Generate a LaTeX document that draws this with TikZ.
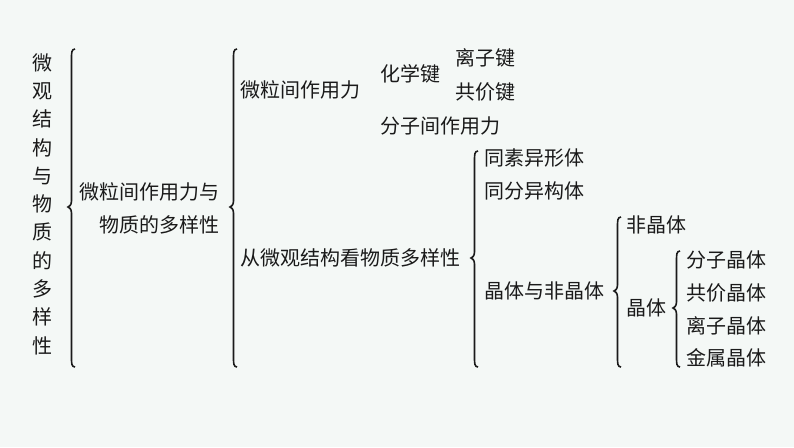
\documentclass[tikz,border=0pt]{standalone}
\usepackage{fontspec}
\newfontfamily\cjk{Noto Sans CJK SC}
\definecolor{bgc}{HTML}{F4F8F6}
\definecolor{ink}{HTML}{1A1A1A}
\newcommand\mybrace[4]{% x, top, tip, bottom
  \draw[bracestyle] (#1+7,#2) .. controls (#1+3.5,#2) and (#1+3.5,#2+4) .. (#1+3.5,#2+9)
    -- (#1+3.5,#3-6) .. controls (#1+3.5,#3-2) and (#1+1,#3) .. (#1,#3)
    .. controls (#1+1,#3) and (#1+3.5,#3+2) .. (#1+3.5,#3+6)
    -- (#1+3.5,#4-9) .. controls (#1+3.5,#4-4) and (#1+3.5,#4) .. (#1+7,#4);}
\begin{document}
\begin{tikzpicture}[x=1pt,y=-1pt,
  bracestyle/.style={draw=ink,line width=1.6pt},
  lbl/.style={inner sep=0pt,anchor=west,text=ink,font=\cjk\fontsize{20}{24}\selectfont}]
\fill[bgc] (0,0) rectangle (794,447);
\useasboundingbox (0,0) rectangle (794,447);
\node[inner sep=0pt,text=ink,align=center,font=\cjk\fontsize{20}{28.3}\selectfont] (title) at (42,204)
 {微\\观\\结\\构\\与\\物\\质\\的\\多\\样\\性};
\mybrace{68}{49}{207}{367}
\node[lbl,anchor=east] (a1) at (220,192) {微粒间作用力与};
\node[lbl,anchor=east] (a2) at (220,225) {物质的多样性};
\mybrace{230}{49}{207}{367}
\node[lbl] (b1) at (240,90) {微粒间作用力};
\node[lbl] (c1) at (380,74) {化学键};
\node[lbl] (d1) at (455,58) {离子键};
\node[lbl] (d2) at (455,92) {共价键};
\node[lbl] (c2) at (380,126) {分子间作用力};
\node[lbl] (b2) at (240,258) {从微观结构看物质多样性};
\mybrace{471}{151}{258}{367}
\node[lbl] (e1) at (484,158) {同素异形体};
\node[lbl] (e2) at (484,191) {同分异构体};
\node[lbl] (e3) at (484,291) {晶体与非晶体};
\mybrace{614}{217}{291}{367}
\node[lbl] (f1) at (626,225) {非晶体};
\node[lbl] (f2) at (626,308) {晶体};
\mybrace{673}{251}{308}{367}
\node[lbl] (g1) at (686,260) {分子晶体};
\node[lbl] (g2) at (686,293) {共价晶体};
\node[lbl] (g3) at (686,326) {离子晶体};
\node[lbl] (g4) at (686,358) {金属晶体};
\end{tikzpicture}
\end{document}
